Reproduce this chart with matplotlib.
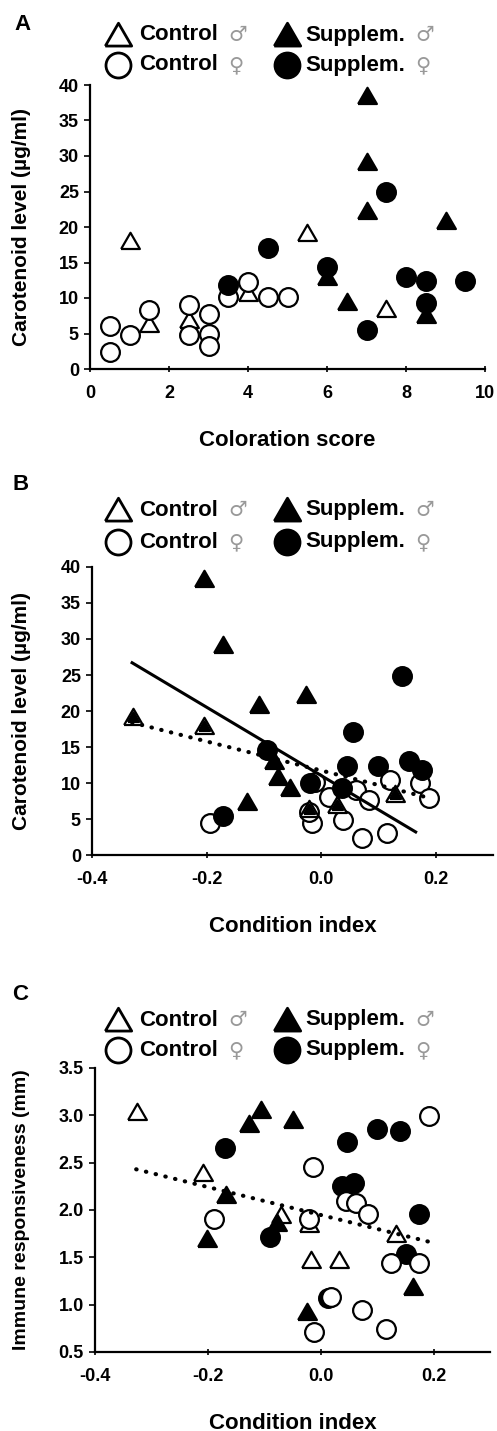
import matplotlib
matplotlib.use("Agg")
import matplotlib.pyplot as plt
from matplotlib.lines import Line2D

plt.rcParams['font.family'] = ['Liberation Sans', 'DejaVu Sans']

# ---- panel A: coloration score vs carotenoid level
a_ctrl_m_x = [1.0, 1.5, 2.5, 4.0, 5.5, 7.5]
a_ctrl_m_y = [18.0, 6.4, 6.9, 10.7, 19.2, 8.5]
a_ctrl_f_x = [0.5, 0.5, 1.0, 1.5, 2.5, 2.5, 3.0, 3.0, 3.0, 3.5, 4.0, 4.5, 5.0]
a_ctrl_f_y = [6.1, 2.4, 4.8, 8.3, 9.0, 4.8, 7.8, 4.9, 3.2, 10.2, 12.3, 10.1, 10.1]
a_supp_m_x = [6.0, 6.5, 7.0, 7.0, 7.0, 8.5, 9.0]
a_supp_m_y = [13.0, 9.5, 38.4, 29.2, 22.2, 7.6, 20.9]
a_supp_f_x = [3.5, 4.5, 6.0, 7.0, 7.5, 8.0, 8.5, 8.5, 9.5]
a_supp_f_y = [11.8, 17.1, 14.4, 5.5, 24.9, 12.9, 12.4, 9.3, 12.4]

# ---- panel B: condition index vs carotenoid level
b_ctrl_m_x = [-0.328, -0.205, -0.022, 0.027, 0.129]
b_ctrl_m_y = [19.2, 17.9, 6.4, 7.0, 8.5]
b_ctrl_f_x = [-0.194, -0.01, 0.121, 0.173, 0.188, 0.013, 0.06, 0.083, 0.039, -0.016, 0.071, 0.115, -0.022]
b_ctrl_f_y = [4.4, 10.2, 10.4, 10.0, 7.9, 8.1, 9.0, 7.6, 4.9, 4.4, 2.3, 3.0, 6.0]
b_supp_m_x = [-0.205, -0.171, -0.108, -0.026, -0.083, -0.075, -0.054, -0.13]
b_supp_m_y = [38.4, 29.2, 20.9, 22.2, 13.0, 10.9, 9.3, 7.4]
b_supp_f_x = [-0.171, -0.095, -0.019, 0.036, 0.045, 0.055, 0.1, 0.141, 0.153, 0.176]
b_supp_f_y = [5.4, 14.6, 10.0, 9.3, 12.4, 17.1, 12.4, 24.9, 13.0, 11.8]
b_solid_x = [-0.33, 0.165]
b_solid_y = [26.7, 3.2]
b_dot_x = [-0.33, 0.19]
b_dot_y = [18.4, 7.9]

# ---- panel C: condition index vs immune responsiveness
c_ctrl_m_x = [-0.326, -0.208, -0.071, -0.02, -0.018, 0.032, 0.133]
c_ctrl_m_y = [3.03, 2.39, 1.95, 1.85, 1.47, 1.47, 1.75]
c_ctrl_f_x = [-0.19, -0.013, -0.02, -0.012, 0.019, 0.044, 0.062, 0.083, 0.073, 0.115, 0.124, 0.174, 0.192]
c_ctrl_f_y = [1.90, 2.45, 1.90, 0.71, 1.08, 2.09, 2.07, 1.96, 0.94, 0.74, 1.44, 1.44, 2.99]
c_supp_m_x = [-0.127, -0.106, -0.05, -0.168, -0.202, -0.078, -0.025, 0.163]
c_supp_m_y = [2.91, 3.06, 2.95, 2.16, 1.69, 1.86, 0.92, 1.19]
c_supp_f_x = [-0.17, -0.09, 0.013, 0.038, 0.059, 0.047, 0.1, 0.14, 0.152, 0.174]
c_supp_f_y = [2.65, 1.72, 1.07, 2.25, 2.28, 2.72, 2.86, 2.83, 1.54, 1.96]
c_dot_x = [-0.327, 0.195]
c_dot_y = [2.43, 1.66]

W, H = 497, 1431
fig = plt.figure(figsize=(W / 100, H / 100), dpi=100)

TRI = [(-1, -0.8), (1, -0.8), (0, 0.93), (-1, -0.8)]
MS = 13.5
GRAY = "#999999"


def px_axes(left, top, right, bottom):
    return fig.add_axes([left / W, 1 - bottom / H, (right - left) / W, (bottom - top) / H])


def points(ax, x, y, marker, filled, ms=MS):
    ax.plot(x, y, linestyle="none", marker=marker, ms=ms,
            mfc="black" if filled else "white", mec="black", mew=1.6, clip_on=False)


def style_axes(ax, xlim, ylim, xticks, yticks, xfmt, yfmt, xlabel):
    ax.set_xlim(*xlim)
    ax.set_ylim(*ylim)
    ax.set_xticks(xticks)
    ax.set_yticks(yticks)
    ax.set_xticklabels([xfmt % t for t in xticks])
    ax.set_yticklabels([yfmt % t for t in yticks])
    for s in ["top", "right"]:
        ax.spines[s].set_visible(False)
    for s in ["left", "bottom"]:
        ax.spines[s].set_linewidth(1.6)
    ax.tick_params(axis="x", direction="inout", length=5, width=1.2, pad=9, labelsize=13)
    ax.tick_params(axis="y", direction="out", length=4, width=1.2, pad=4, labelsize=13)
    for lab in ax.get_xticklabels() + ax.get_yticklabels():
        lab.set_fontweight("bold")
    ax.set_xlabel(xlabel, fontsize=16, fontweight="bold", labelpad=20)


def legend(row1, row2):
    rows = [(row1, TRI, u"\u2642", 19), (row2, "o", u"\u2640", 18)]
    for y, mk, sym, ms in rows:
        yf = 1 - y / H
        fig.add_artist(Line2D([118 / W], [yf], marker=mk, ms=ms, mfc="white", mec="black",
                              mew=2, linestyle="none", transform=fig.transFigure))
        fig.add_artist(Line2D([287 / W], [yf], marker=mk, ms=ms, mfc="black", mec="black",
                              mew=2, linestyle="none", transform=fig.transFigure))
        fig.text(139 / W, yf, "Control", fontsize=16, fontweight="bold", va="center")
        fig.text(228 / W, yf, sym, fontsize=15, va="center", color=GRAY, family=["DejaVu Sans"])
        fig.text(305 / W, yf, "Supplem.", fontsize=16, fontweight="bold", va="center")
        fig.text(415 / W, yf, sym, fontsize=15, va="center", color=GRAY, family=["DejaVu Sans"])


def ylabel(text, top, bottom, size):
    fig.text(22 / W, 1 - (top + bottom) / 2 / H, text, rotation=90, ha="center", va="center",
             fontsize=size, fontweight="bold")


# ---------- A
axA = px_axes(90, 85, 485, 369)
points(axA, a_ctrl_m_x, a_ctrl_m_y, TRI, False)
points(axA, a_ctrl_f_x, a_ctrl_f_y, "o", False)
points(axA, a_supp_m_x, a_supp_m_y, TRI, True)
points(axA, a_supp_f_x, a_supp_f_y, "o", True)
style_axes(axA, (0, 10), (0, 40), [0, 2, 4, 6, 8, 10], list(range(0, 41, 5)),
           "%d", "%d", "Coloration score")
ylabel(u"Carotenoid level (\u00b5g/ml)", 85, 369, 15)
fig.text(14 / W, 1 - 25 / H, "A", fontsize=16, fontweight="bold", va="center")
legend(35, 65)

# ---------- B
axB = px_axes(92, 567, 493, 855)
points(axB, b_ctrl_f_x, b_ctrl_f_y, "o", False)
points(axB, b_ctrl_m_x, b_ctrl_m_y, TRI, False)
points(axB, b_ctrl_m_x, b_ctrl_m_y, TRI, True, ms=8)
points(axB, b_supp_m_x, b_supp_m_y, TRI, True)
points(axB, b_supp_f_x, b_supp_f_y, "o", True)
axB.plot(b_solid_x, b_solid_y, color="black", lw=2.2)
axB.plot(b_dot_x, b_dot_y, color="black", lw=3, linestyle=(0, (0.1, 2.3)), dash_capstyle="round")
style_axes(axB, (-0.4, 0.3), (0, 40), [-0.4, -0.2, 0.0, 0.2], list(range(0, 41, 5)),
           "%.1f", "%d", "Condition index")
ylabel(u"Carotenoid level (\u00b5g/ml)", 567, 855, 15)
fig.text(12 / W, 1 - 485 / H, "B", fontsize=16, fontweight="bold", va="center")
legend(510, 542)

# ---------- C
axC = px_axes(95, 1068, 490, 1352)
points(axC, c_ctrl_m_x, c_ctrl_m_y, TRI, False)
points(axC, c_supp_m_x, c_supp_m_y, TRI, True)
points(axC, c_supp_f_x, c_supp_f_y, "o", True)
points(axC, c_ctrl_f_x, c_ctrl_f_y, "o", False)
axC.plot(c_dot_x, c_dot_y, color="black", lw=3, linestyle=(0, (0.1, 2.3)), dash_capstyle="round")
style_axes(axC, (-0.4, 0.3), (0.5, 3.5), [-0.4, -0.2, 0.0, 0.2], [0.5, 1.0, 1.5, 2.0, 2.5, 3.0, 3.5],
           "%.1f", "%.1f", "Condition index")
ylabel("Immune responsiveness (mm)", 1068, 1352, 14)
fig.text(12 / W, 1 - 995 / H, "C", fontsize=16, fontweight="bold", va="center")
legend(1020, 1050)

fig.savefig("out.png", dpi=100)
